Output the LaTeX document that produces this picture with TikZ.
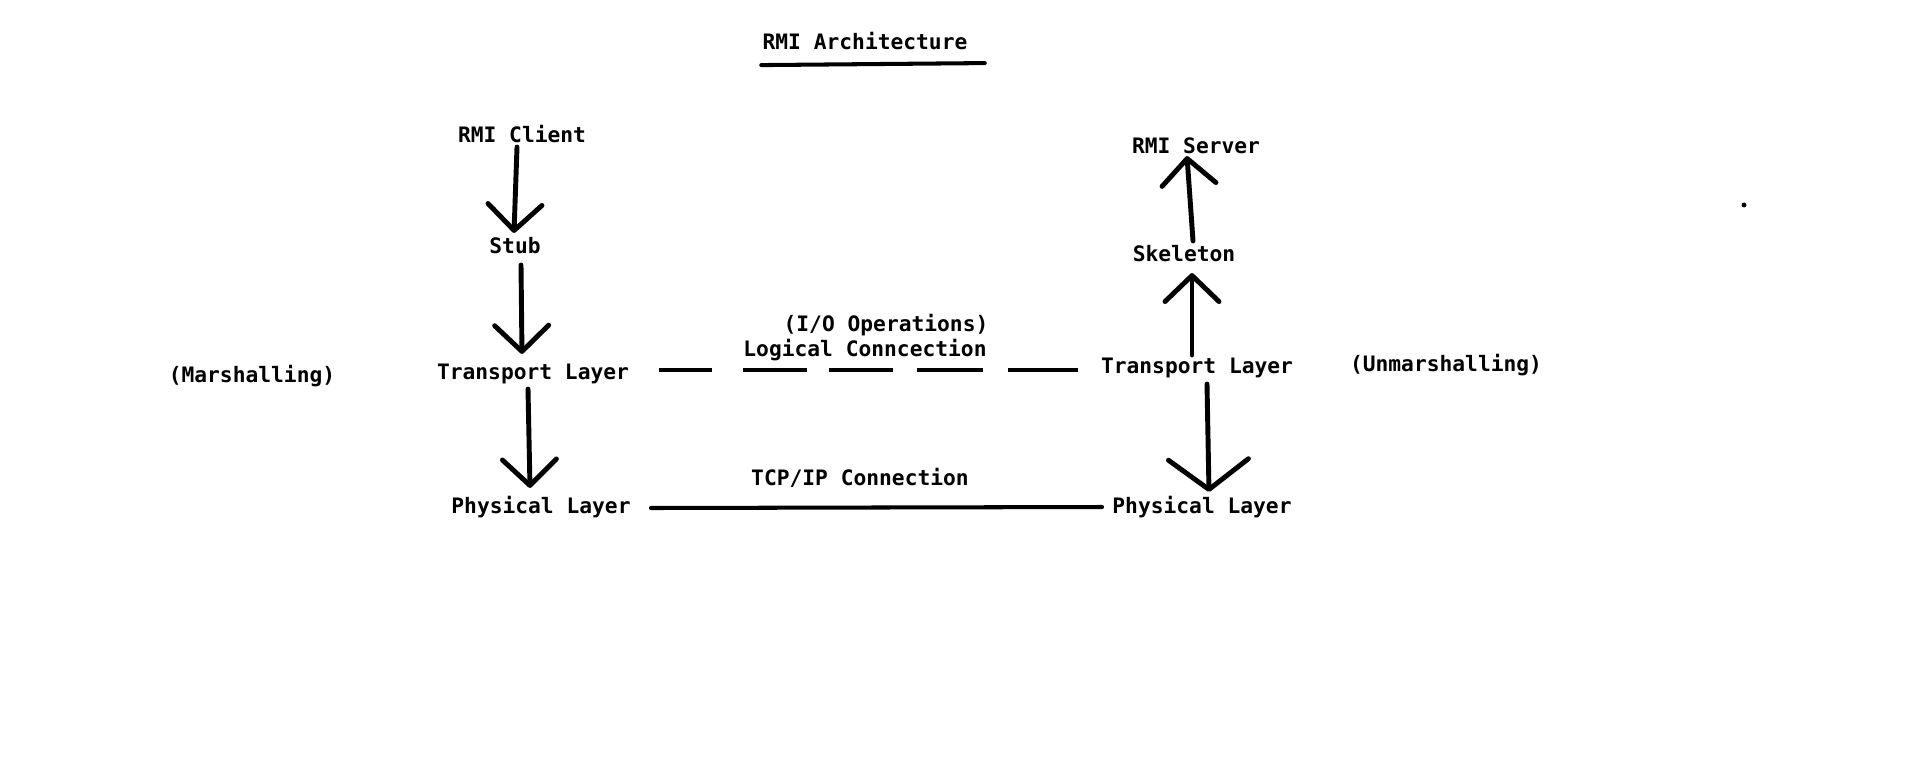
\documentclass[tikz,border=0pt]{standalone}
\usepackage{fontspec}
\setmonofont{DejaVu Sans Mono}
\usepackage{tikz}
\usetikzlibrary{arrows.meta}

\begin{document}
\begin{tikzpicture}[x=0.02cm, y=-0.02cm,
    lbl/.style={font=\fontsize{12.1}{14}\selectfont\ttfamily\bfseries, inner sep=0pt, text height=8.8pt, text depth=0pt},
    flow/.style={line width=2.8pt, line cap=round, -{Straight Barb[length=0.52cm, width=1.08cm, round]}},
    link/.style={line width=2.3pt}]
    \useasboundingbox (0,0) rectangle (1906,761);

    % Title
    \node[lbl] (title) at (865,42) {RMI Architecture};
    \draw[line width=2.3pt, line cap=round] ([shift={(-1,15)}]title.south west) -- ([shift={(17,13)}]title.south east);

    % Client side
    \node[lbl] (client) at (522,135) {RMI Client};
    \node[lbl] (stub)   at (515,246) {Stub};
    \node[lbl] (tl)     at (533,372) {Transport Layer};
    \node[lbl] (pl)     at (541,506) {Physical Layer};
    \node[lbl] (mars)   at (252,375) {(Marshalling)};

    % Server side
    \node[lbl] (server) at (1196,146) {RMI Server};
    \node[lbl] (skel)   at (1184,254) {Skeleton};
    \node[lbl] (tr)     at (1197,366) {Transport Layer};
    \node[lbl] (pr)     at (1202,506) {Physical Layer};
    \node[lbl] (unmars) at (1446,364) {(Unmarshalling)};

    % Connection labels
    \node[lbl] (io)    at (886,324) {(I/O Operations)};
    \node[lbl] (logic) at (865,349) {Logical Conncection};
    \node[lbl] (tcp)   at (860,478) {TCP/IP Connection};

    % Arrows down the client
    \draw[flow] ([shift={(-5,4)}]client.south) -- ([shift={(-1,-5)}]stub.north);
    \draw[flow] ([shift={(6,11)}]stub.south) -- ([shift={(-11,-10)}]tl.north);
    \draw[flow] ([shift={(-5,9)}]tl.south) -- ([shift={(-11,-10)}]pl.north);

    % Arrows on the server
    \draw[flow] ([shift={(-5,-3)}]tr.north) -- ([shift={(8,11)}]skel.south);
    \draw[flow] ([shift={(9,-5)}]skel.north) -- ([shift={(-9,2)}]server.south);
    \draw[flow, -{Straight Barb[length=0.6cm, width=1.6cm, round]}] ([shift={(10,10)}]tr.south) -- ([shift={(7,-6)}]pr.north);

    % Logical and physical links
    \draw[line width=2pt, dash pattern=on 1.06cm off 0.62cm on 1.28cm off 0.44cm on 1.28cm off 0.48cm on 1.32cm off 0.5cm on 1.42cm off 1cm]
        ([shift={(30,-2)}]tl.east) -- ([shift={(-23,4)}]tr.west);
    \draw[link, line cap=round] ([shift={(20,2)}]pl.east) -- ([shift={(-10,1)}]pr.west);

    % stray dot
    \fill (1744,205) circle (1.4pt);
\end{tikzpicture}
\end{document}
